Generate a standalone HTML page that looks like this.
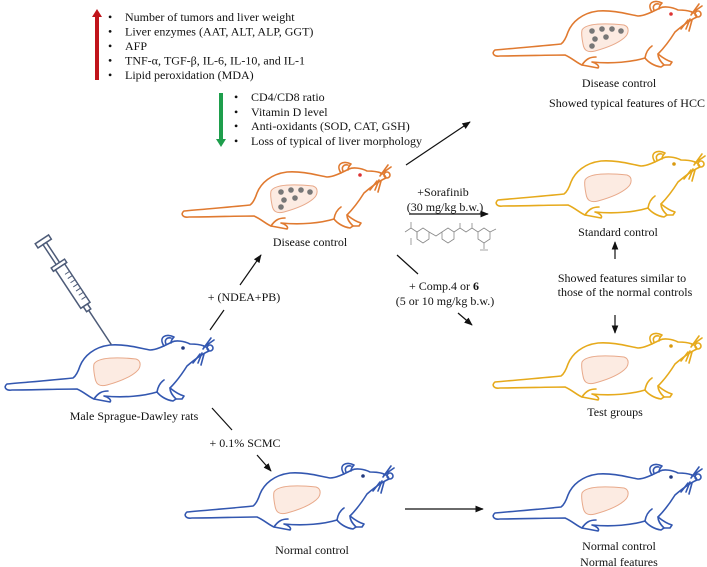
<!DOCTYPE html>
<html><head><meta charset="utf-8"><style>
html,body{margin:0;padding:0;background:#fff;}
svg{display:block;}
text{font-family:"Liberation Serif",serif;font-size:12px;fill:#111;}
</style></head><body>
<svg width="707" height="567" viewBox="0 0 707 567" xmlns="http://www.w3.org/2000/svg">
<defs>
<marker id="ah" viewBox="0 0 10 10" refX="9" refY="5" markerWidth="7" markerHeight="7" orient="auto"><path d="M0,1 L10,5 L0,9 Z" fill="#111"/></marker>
<g id="ratbody" fill="none" stroke="currentColor" stroke-width="1.6" stroke-linejoin="round" stroke-linecap="round">
<path d="M69,44 C50,46 25,48 3,50 C-1,53 2,57 8,56 C30,56 55,55 73,55 C80,58 85,63 90,65 L106,68 C108,66 104,63 100,62 C120,64 140,62 153,58 C156,62 162,66 169,67 L172,65 C168,61 166,58 166,54 C172,48 178,40 183,32 C190,26 198,20 205,17 C204,12 196,10 186,10 C180,7 172,6 168,8 C160,12 152,16 146,16 C135,14 122,10 106,11 C90,13 80,22 76,32 C74,38 72,42 69,44 Z"/>
<path d="M160,12 C154,3 162,-1 170,3 C168,5 167,7 167,9"/>
<path d="M162,10 C160,6 163,3 167,4"/>
<circle cx="206" cy="14" r="3"/>
<path d="M200,13 L210,6 M199,15 L207,4 M198,19 L194,29 M196,20 L189,29 M200,20 L197,31"/>
<path d="M153,58 C154,52 157,48 160,46 M166,54 C171,58 176,61 180,62 L178,65 L172,65"/>
<path d="M90,65 C94,59 98,57 104,57"/>
</g>
<circle id="eye" r="1.8"/>
<path id="liver" d="M90,30 C94,23 114,23 132,25 C138,27 137,34 132,38 C125,44 114,48 103,51 C95,53 92,50 91,44 C90,39 89,34 90,30 Z" fill="#FCEBE2" stroke="#E8A98A" stroke-width="1"/>
</defs>

<!-- rats -->
<g transform="translate(4,334)" style="color:#3357B0"><use href="#liver"/><use href="#ratbody"/><use href="#eye" x="179" y="14" fill="#223a80"/></g>
<g transform="translate(181,161)" style="color:#E07A30"><use href="#liver"/><use href="#ratbody"/><use href="#eye" x="179" y="14" fill="#d33"/>
<g fill="#777"><circle cx="100" cy="31" r="2.8"/><circle cx="110" cy="29" r="2.8"/><circle cx="120" cy="29" r="2.8"/><circle cx="129" cy="31" r="2.8"/><circle cx="103" cy="39" r="2.8"/><circle cx="114" cy="37" r="2.8"/><circle cx="100" cy="46" r="2.8"/></g></g>
<g transform="translate(492,0)" style="color:#E07A30"><use href="#liver"/><use href="#ratbody"/><use href="#eye" x="179" y="14" fill="#d33"/>
<g fill="#777"><circle cx="100" cy="31" r="2.8"/><circle cx="110" cy="29" r="2.8"/><circle cx="120" cy="29" r="2.8"/><circle cx="129" cy="31" r="2.8"/><circle cx="103" cy="39" r="2.8"/><circle cx="114" cy="37" r="2.8"/><circle cx="100" cy="46" r="2.8"/></g></g>
<g transform="translate(495,150)" style="color:#E6AA1C"><use href="#liver"/><use href="#ratbody"/><use href="#eye" x="179" y="14" fill="#d99a10"/></g>
<g transform="translate(492,332)" style="color:#E6AA1C"><use href="#liver"/><use href="#ratbody"/><use href="#eye" x="179" y="14" fill="#d99a10"/></g>
<g transform="translate(184,462)" style="color:#3357B0"><use href="#liver"/><use href="#ratbody"/><use href="#eye" x="179" y="14" fill="#223a80"/></g>
<g transform="translate(492,463)" style="color:#3357B0"><use href="#liver"/><use href="#ratbody"/><use href="#eye" x="179" y="14" fill="#223a80"/></g>

<!-- syringe -->
<g transform="translate(43,241) rotate(56.6)" fill="#fff" stroke="#4d5b78" stroke-width="1.5">
<rect x="-2" y="-8" width="5" height="16"/>
<rect x="3" y="-2" width="24" height="4"/>
<rect x="27" y="-8" width="4" height="16"/>
<rect x="31" y="-5.5" width="46" height="11"/>
<path d="M40,-5 V0 M45,-5 V0 M50,-5 V0 M55,-5 V0 M60,-5 V0 M65,-5 V0 M70,-5 V0" stroke-width="1"/>
<rect x="77" y="-2.5" width="6" height="5"/>
<line x1="83" y1="0" x2="124" y2="0"/>
</g>

<!-- top lists -->
<line x1="97" y1="80" x2="97" y2="16" stroke="#C0141B" stroke-width="4"/>
<path d="M92,17 L97,9 L102,17 Z" fill="#C0141B"/>
<g>
<text x="108" y="21">•</text><text x="125" y="21">Number of tumors and liver weight</text>
<text x="108" y="35.5">•</text><text x="125" y="35.5">Liver enzymes (AAT, ALT, ALP, GGT)</text>
<text x="108" y="50">•</text><text x="125" y="50">AFP</text>
<text x="108" y="64.5">•</text><text x="125" y="64.5">TNF-α, TGF-β, IL-6, IL-10, and IL-1</text>
<text x="108" y="79">•</text><text x="125" y="79">Lipid peroxidation (MDA)</text>
</g>
<line x1="221" y1="93" x2="221" y2="140" stroke="#1E9E4C" stroke-width="4"/>
<path d="M216,139 L221,147 L226,139 Z" fill="#1E9E4C"/>
<g>
<text x="234" y="101">•</text><text x="251" y="101">CD4/CD8 ratio</text>
<text x="234" y="116">•</text><text x="251" y="116">Vitamin D level</text>
<text x="234" y="130">•</text><text x="251" y="130">Anti-oxidants (SOD, CAT, GSH)</text>
<text x="234" y="145">•</text><text x="251" y="145">Loss of typical of liver morphology</text>
</g>

<!-- labels -->
<g text-anchor="middle">
<text x="134" y="420">Male Sprague-Dawley rats</text>
<text x="310" y="246">Disease control</text>
<text x="619" y="87">Disease control</text>
<text x="627" y="107">Showed typical features of HCC</text>
<text x="618" y="236">Standard control</text>
<text x="622" y="282">Showed features similar to</text>
<text x="625" y="296">those of the normal controls</text>
<text x="615" y="416">Test groups</text>
<text x="312" y="554">Normal control</text>
<text x="619" y="550">Normal control</text>
<text x="619" y="566">Normal features</text>
<text x="244" y="301">+ (NDEA+PB)</text>
<text x="245" y="447">+ 0.1% SCMC</text>
<text x="443" y="196">+Sorafinib</text>
<text x="445" y="211">(30 mg/kg b.w.)</text>
<text x="444" y="290">+ Comp.4 or <tspan font-weight="bold">6</tspan></text>
<text x="445" y="305">(5 or 10 mg/kg b.w.)</text>
</g>

<!-- arrows -->
<g stroke="#111" stroke-width="1.2" fill="none">
<line x1="210" y1="330" x2="224" y2="310"/>
<line x1="240" y1="285" x2="261" y2="255" marker-end="url(#ah)"/>
<line x1="212" y1="408" x2="232" y2="430"/>
<line x1="257" y1="455" x2="271" y2="471" marker-end="url(#ah)"/>
<line x1="406" y1="165" x2="470" y2="122" marker-end="url(#ah)"/>
<line x1="409" y1="214" x2="488" y2="214" marker-end="url(#ah)"/>
<line x1="397" y1="255" x2="418" y2="274"/>
<line x1="458" y1="313" x2="472" y2="325" marker-end="url(#ah)"/>
<line x1="405" y1="509" x2="483" y2="509" marker-end="url(#ah)"/>
<line x1="615" y1="259" x2="615" y2="242" marker-end="url(#ah)"/>
<line x1="615" y1="315" x2="615" y2="333" marker-end="url(#ah)"/>
</g>

<!-- sorafinib structure -->
<g stroke="#888" stroke-width="0.8" fill="none">
<path d="M405,232 L411,228 L417,232 L417,238 M411,228 V222"/>
<path d="M417,232 L423,228 L429,232 L429,239 L423,243 L417,239 Z"/>
<path d="M429,232 L436,236 L442,232"/>
<path d="M442,232 L448,228 L454,232 L454,239 L448,243 L442,239 Z"/>
<path d="M454,232 L460,228 L466,232 L472,228 L478,232 M460,228 V223 M472,228 V223"/>
<path d="M478,232 L484,228 L490,232 L490,239 L484,243 L478,239 Z"/>
<path d="M490,232 L496,229 M484,243 V249 M480,250 L488,250"/>
<path d="M411,238 V245"/>
</g>
</svg>
</body></html>
